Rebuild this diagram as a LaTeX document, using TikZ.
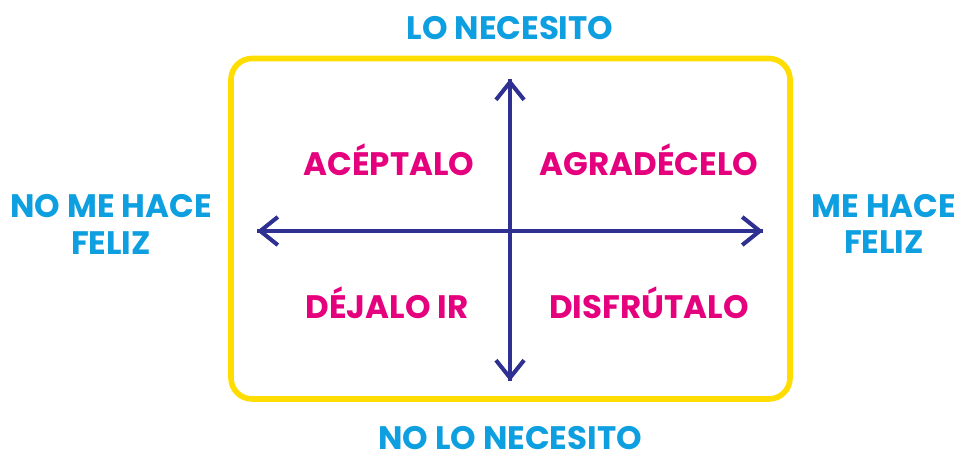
\documentclass[tikz,border=0pt]{standalone}
\usepackage{fontspec}
\setmainfont{Poppins}[BoldFont={* Bold}]
\usetikzlibrary{arrows.meta}
\definecolor{boxyellow}{HTML}{FFDD00}
\definecolor{axisnavy}{HTML}{2E3192}
\definecolor{quadpink}{HTML}{E5007E}
\definecolor{axissky}{HTML}{0D9FE0}
\tikzset{
  axislab/.style={text=axissky,font=\bfseries\fontsize{18.5}{21}\selectfont,align=center,inner sep=1pt},
  quadlab/.style={text=quadpink,font=\bfseries\fontsize{18.5}{21}\selectfont,inner sep=1pt},
  axisline/.style={draw=axisnavy,line width=2.3pt,-{Straight Barb[length=10pt,width=16pt,line width=2.3pt]}}
}
\begin{document}
\begin{tikzpicture}[x=0.02cm,y=0.02cm]
  \useasboundingbox (0,0) rectangle (959,453);
  % frame
  \draw[boxyellow,line width=3.2pt,rounded corners=12pt] (231,394.5) rectangle (790,54);
  % axes
  \coordinate (top) at (510,374);
  \coordinate (bot) at (510,72);
  \coordinate (lft) at (257,222);
  \coordinate (rgt) at (763,222);
  \draw[axisline] (bot) -- (top);
  \draw[axisline] (top) -- (bot);
  \draw[axisline] (rgt) -- (lft);
  \draw[axisline] (lft) -- (rgt);
  % axis labels
  \node[axislab] (need) at (510,425) {LO NECESITO};
  \node[axislab] (noneed) at (510,15) {NO LO NECESITO};
  \node[axislab] (unhappy) at (111,229) {NO ME HACE\\FELIZ};
  \node[axislab] (happy) at (884,229) {ME HACE\\FELIZ};
  % quadrants
  \node[quadlab] (accept) at (389,293) {ACÉPTALO};
  \node[quadlab] (thank) at (649,293) {AGRADÉCELO};
  \node[quadlab] (letgo) at (387,150) {DÉJALO IR};
  \node[quadlab] (enjoy) at (649,150) {DISFRÚTALO};
\end{tikzpicture}
\end{document}
